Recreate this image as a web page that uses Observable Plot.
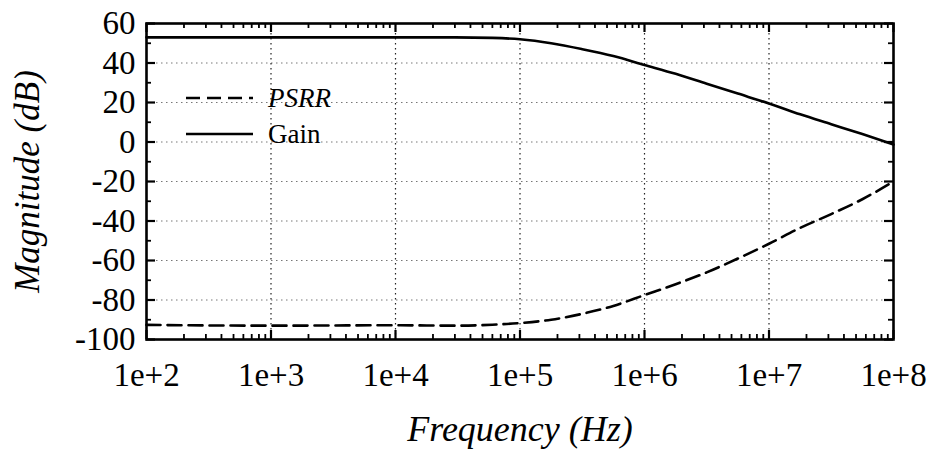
<!DOCTYPE html>
<html>
<head>
<meta charset="utf-8">
<script src="https://cdn.jsdelivr.net/npm/d3@7"></script>
<script src="https://cdn.jsdelivr.net/npm/@observablehq/plot@0.6"></script>
<style>
  body { margin: 0; background: #fff; }
  #chart svg { display: block; }
</style>
</head>
<body>
<div id="chart"></div>
<script>
// Frequency response: open-loop gain and power-supply rejection (dB vs Hz)
const gainFreq = [1e2, 1e3, 1e4, 3e4, 6e4, 1e5, 1.78e5, 3.16e5, 5.62e5, 1e6, 1.78e6, 3.16e6, 5.62e6, 1e7, 1.78e7, 3.16e7, 5.62e7, 1e8];
const gainDb   = [53, 53, 53, 53, 52.7, 52, 50, 47, 43.5, 39, 34.5, 29.5, 24.5, 19.5, 14, 9, 4, -1.3];

const psrrFreq = [1e2, 1e3, 1e4, 3e4, 6e4, 1e5, 1.78e5, 3.16e5, 5.62e5, 1e6, 1.78e6, 3.16e6, 5.62e6, 1e7, 1.78e7, 3.16e7, 5.62e7, 1e8];
const psrrDb   = [-92.6, -93, -92.8, -93, -92.5, -91.7, -90, -87, -83, -77.5, -72, -66, -59, -51.5, -43.5, -36.5, -29, -20];

const seriesNames = ["PSRR", "Gain"];

const xTicks = [1e2, 1e3, 1e4, 1e5, 1e6, 1e7, 1e8];
const xTickLabels = ["1e+2", "1e+3", "1e+4", "1e+5", "1e+6", "1e+7", "1e+8"];
const yTicks = [-100, -80, -60, -40, -20, 0, 20, 40, 60];
const yMinorTicks = [-90, -70, -50, -30, -10, 10, 30, 50];

const xLabel = "Frequency (Hz)";
const yLabel = "Magnitude (dB)";

// layout
const W = 931, H = 457;
const M = {top: 23, right: 38, bottom: 118, left: 146};
const plotW = W - M.left - M.right;
const plotH = H - M.top - M.bottom;
const FONT = "'Liberation Serif', 'Times New Roman', serif";

// minor log ticks between decades (2..9 × 10^k)
const xMinorTicks = xTicks.slice(0, -1).flatMap(d => d3.range(2, 10).map(m => m * d));

const gainData = gainFreq.map((f, i) => ({f, v: gainDb[i]}));
const psrrData = psrrFreq.map((f, i) => ({f, v: psrrDb[i]}));

const majorLen = 9, minorLen = 5;

// legend drawn inside the frame, upper left
function legend() {
  const g = d3.create("svg:g");
  const x0 = M.left + 40, x1 = M.left + 107, tx = M.left + 122;
  const rows = [
    {name: seriesNames[0], y: M.top + 75, dash: "14,7", italic: true},
    {name: seriesNames[1], y: M.top + 111, dash: null, italic: false}
  ];
  for (const r of rows) {
    g.append("line")
      .attr("x1", x0).attr("x2", x1).attr("y1", r.y).attr("y2", r.y)
      .attr("stroke", "#000").attr("stroke-width", 2.6)
      .attr("stroke-dasharray", r.dash);
    g.append("text")
      .attr("x", tx).attr("y", r.y).attr("dy", "0.32em")
      .attr("text-anchor", "start")
      .attr("font-size", 27).attr("font-family", FONT)
      .attr("font-style", r.italic ? "italic" : "normal")
      .attr("fill", "#000")
      .text(r.name);
  }
  return g.node();
}

const chart = Plot.plot({
  width: W,
  height: H,
  marginTop: M.top,
  marginRight: M.right,
  marginBottom: M.bottom,
  marginLeft: M.left,
  style: {fontFamily: FONT, background: "#fff", color: "#000"},
  x: {type: "log", domain: [1e2, 1e8]},
  y: {domain: [-100, 60]},
  marks: [
    // grid
    Plot.ruleY(yTicks.slice(1, -1), {stroke: "#777", strokeWidth: 1, strokeDasharray: "1.5,3.5"}),
    Plot.ruleX(xTicks.slice(1, -1), {stroke: "#222", strokeWidth: 1.2, strokeDasharray: "1.5,3.5"}),

    // inward ticks on all four sides
    Plot.ruleX(xTicks, {insetTop: plotH - majorLen, stroke: "#000", strokeWidth: 2.2}),
    Plot.ruleX(xTicks, {insetBottom: plotH - majorLen, stroke: "#000", strokeWidth: 2.2}),
    Plot.ruleX(xMinorTicks, {insetTop: plotH - minorLen, stroke: "#000", strokeWidth: 1.8}),
    Plot.ruleX(xMinorTicks, {insetBottom: plotH - minorLen, stroke: "#000", strokeWidth: 1.8}),
    Plot.ruleY(yTicks, {insetRight: plotW - majorLen, stroke: "#000", strokeWidth: 2.2}),
    Plot.ruleY(yTicks, {insetLeft: plotW - majorLen, stroke: "#000", strokeWidth: 2.2}),
    Plot.ruleY(yMinorTicks, {insetRight: plotW - minorLen, stroke: "#000", strokeWidth: 1.8}),
    Plot.ruleY(yMinorTicks, {insetLeft: plotW - minorLen, stroke: "#000", strokeWidth: 1.8}),

    // tick labels
    Plot.axisX(xTicks, {
      tickSize: 0, tickPadding: 23, fontSize: 33, label: null,
      tickFormat: d => xTickLabels[xTicks.indexOf(d)]
    }),
    Plot.axisY(yTicks, {
      tickSize: 0, tickPadding: 11, fontSize: 33, label: null,
      tickFormat: d => String(d)
    }),

    // curves
    Plot.line(gainData, {x: "f", y: "v", stroke: "#000", strokeWidth: 2.6, curve: "monotone-x"}),
    Plot.line(psrrData, {x: "f", y: "v", stroke: "#000", strokeWidth: 2.6, strokeDasharray: "14,7", curve: "monotone-x"}),

    Plot.frame({stroke: "#000", strokeWidth: 2.6}),

    // axis titles
    Plot.text([xLabel], {
      frameAnchor: "bottom", dy: 90, fontSize: 36, fontStyle: "italic",
      textAnchor: "middle", lineAnchor: "middle", text: d => d
    }),
    Plot.text([yLabel], {
      frameAnchor: "left", dx: -119, rotate: -90, fontSize: 35, fontStyle: "italic",
      textAnchor: "middle", lineAnchor: "middle", text: d => d
    }),

    legend
  ]
});

document.getElementById("chart").append(chart);
</script>
</body>
</html>
